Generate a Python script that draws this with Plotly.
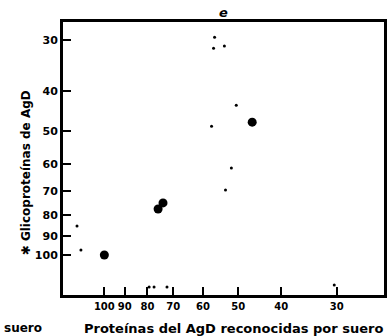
import plotly.graph_objects as go

# Proteínas del AgD reconocidas por suero (kDa) frente a glicoproteínas de AgD (kDa)
proteinas_kda = [100, 75.7, 73.8, 46.5]
glicoproteinas_kda = [100, 77.3, 74.7, 47.5]

# Bandas débiles
debiles_prot = [56.5, 56.8, 53.7, 50.5, 57.4, 51.8, 53.4, 115.2, 112.9, 79.3, 77.3, 72.3, 30.4]
debiles_gli = [29.5, 31.4, 31.0, 43.2, 48.6, 61.4, 69.5, 85.0, 97.2, 119.7, 119.7, 119.7, 118.3]

x_ticks = [100, 90, 80, 70, 60, 50, 40, 30]
y_ticks = [30, 40, 50, 60, 70, 80, 90, 100]

FONT = "DejaVu Sans"

fig = go.Figure()
fig.add_trace(go.Scatter(
    x=debiles_prot, y=debiles_gli, mode="markers",
    marker=dict(size=3, color="black"), showlegend=False, hoverinfo="skip",
))
fig.add_trace(go.Scatter(
    x=proteinas_kda, y=glicoproteinas_kda, mode="markers",
    marker=dict(size=9, color="black"), showlegend=False,
))

axis_common = dict(
    type="log", showgrid=False, zeroline=False,
    showline=True, linewidth=3, linecolor="black", mirror=True,
    ticks="inside", ticklen=8, tickwidth=2, tickcolor="black", tickangle=0,
)
fig.update_xaxes(range=[2.093, 1.371], tickvals=x_ticks,
                 ticktext=[str(v) for v in x_ticks],
                 tickfont=dict(family=FONT, size=10, color="black", weight="bold"),
                 **axis_common)
fig.update_yaxes(range=[2.0974, 1.433], tickvals=y_ticks,
                 ticktext=[str(v) for v in y_ticks],
                 tickfont=dict(family=FONT, size=11, color="black", weight="bold"),
                 **axis_common)

xtitle_font = dict(family=FONT, size=13, color="black", weight="bold")
ytitle_font = dict(family=FONT, size=12, color="black", weight="bold")
fig.update_layout(
    width=390, height=336,
    margin=dict(l=63, r=3, t=22, b=41),
    paper_bgcolor="white", plot_bgcolor="white",
    annotations=[
        dict(text="Proteínas del AgD reconocidas por suero", xref="paper", yref="paper",
             x=0.531, y=-0.1209, xanchor="center", yanchor="middle",
             showarrow=False, font=xtitle_font),
        dict(text="suero", xref="paper", yref="paper",
             x=-0.1914, y=-0.1209, xanchor="left", yanchor="middle",
             showarrow=False, font=ytitle_font),
        dict(text="✱ Glicoproteínas de AgD", xref="paper", yref="paper",
             x=-0.1142, y=0.4469, xanchor="center", yanchor="middle",
             textangle=-90, showarrow=False, font=ytitle_font),
        dict(text="<i>e</i>", xref="paper", yref="paper",
             x=0.5, y=1.033, xanchor="center", yanchor="middle",
             showarrow=False, font=dict(family=FONT, size=13, color="black", weight="bold")),
    ],
)

fig.write_html("out.html")
